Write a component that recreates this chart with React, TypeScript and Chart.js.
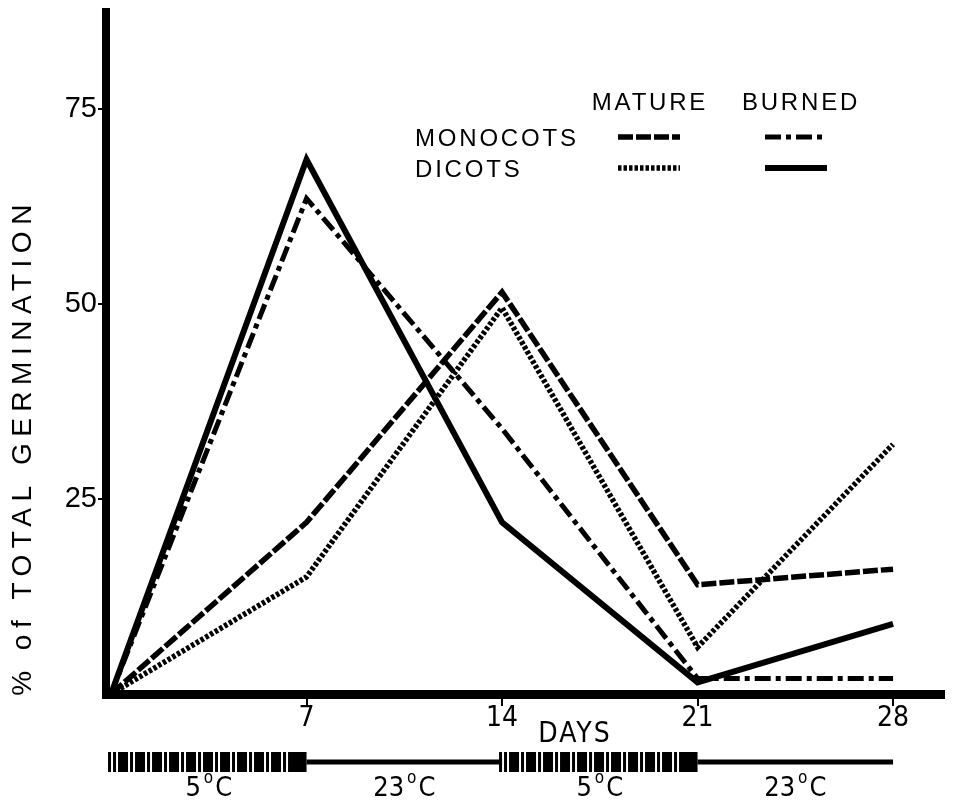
import { useEffect, useRef } from 'react';
import { Chart, registerables } from 'chart.js';

Chart.register(...registerables);

// ---- data ----
const days = [0, 7, 14, 21, 28];
const matureMonocots = [0, 22, 51.5, 14, 16];
const burnedMonocots = [0, 63.5, 34, 2, 2];
const matureDicots = [0, 15, 49.5, 6, 32];
const burnedDicots = [0, 68.5, 22, 1.5, 9];

const xTickValues = [7, 14, 21, 28];
const yTickValues = [25, 50, 75];

const legendColumns = ['MATURE', 'BURNED'];
const legendRows = ['MONOCOTS', 'DICOTS'];

const tempStart = [0, 7, 14, 21];
const tempEnd = [7, 14, 21, 28];
const tempValues = ['5', '23', '5', '23'];
const tempCold = [true, false, true, false];

const yTitle = '% of TOTAL GERMINATION';
const xTitle = 'DAYS';

const SANS = '"Liberation Sans", Arial, Helvetica, sans-serif';
const NARROW = '"Liberation Sans Narrow", "DejaVu Sans Condensed", "Liberation Sans", Arial, sans-serif';

function pts(vals: number[]) {
  return days.map((d, i) => ({ x: d, y: vals[i] }));
}

const overlayPlugin = {
  id: 'overlay',
  afterDraw(chart: any) {
    const ctx: CanvasRenderingContext2D = chart.ctx;
    const xs = chart.scales.x;
    ctx.save();
    ctx.fillStyle = '#000';
    ctx.strokeStyle = '#000';

    // y-axis title
    ctx.save();
    ctx.translate(23, 447);
    ctx.rotate(-Math.PI / 2);
    (ctx as any).letterSpacing = '6.5px';
    ctx.font = `28px ${SANS}`;
    ctx.textAlign = 'center';
    ctx.textBaseline = 'middle';
    ctx.fillText(yTitle, 0, 0);
    ctx.restore();

    // DAYS
    ctx.save();
    (ctx as any).letterSpacing = '2px';
    ctx.font = `28px ${NARROW}`;
    ctx.textAlign = 'center';
    ctx.textBaseline = 'alphabetic';
    ctx.fillText(xTitle, 575, 742);
    ctx.restore();

    // legend
    ctx.save();
    (ctx as any).letterSpacing = '2.8px';
    ctx.font = `24px ${SANS}`;
    ctx.textBaseline = 'alphabetic';
    ctx.textAlign = 'center';
    const colCenters = [650, 801];
    legendColumns.forEach((t, i) => ctx.fillText(t, colCenters[i], 110));
    ctx.textAlign = 'left';
    const rowBase = [146, 177];
    legendRows.forEach((t, i) => ctx.fillText(t, 415, rowBase[i]));
    ctx.restore();

    const sampleX = [[618, 680], [765, 827]];
    const sampleY = [137, 168];
    chart.data.datasets.forEach((ds: any, i: number) => {
      const row = Math.floor(i / 2);
      const col = i % 2;
      ctx.save();
      ctx.lineWidth = ds.borderWidth;
      ctx.setLineDash(ds.borderDash || []);
      ctx.lineCap = 'butt';
      ctx.beginPath();
      ctx.moveTo(sampleX[col][0], sampleY[row]);
      ctx.lineTo(sampleX[col][1], sampleY[row]);
      ctx.stroke();
      ctx.restore();
    });

    // temperature regime bar
    const yc = 762;
    tempStart.forEach((s, i) => {
      const x1 = xs.getPixelForValue(s);
      const x2 = xs.getPixelForValue(tempEnd[i]);
      if (tempCold[i]) {
        let p = x1 - 3;
        ctx.fillRect(p, yc - 10, 3, 20);
        p += 5;
        ctx.fillRect(p, yc - 10, 3, 20);
        p += 5;
        while (p + 17 < x2 - 12) {
          ctx.fillRect(p, yc - 10, 10, 20);
          p += 12;
          ctx.fillRect(p, yc - 10, 3, 20);
          p += 5;
        }
        ctx.fillRect(p, yc - 10, x2 - p, 20);
      } else {
        ctx.fillRect(x1, yc - 2.5, x2 - x1, 5);
      }
      // label
      const cx = (x1 + x2) / 2;
      ctx.font = `27px ${NARROW}`;
      const wNum = ctx.measureText(tempValues[i]).width;
      ctx.font = `17px ${NARROW}`;
      const wDeg = ctx.measureText('o').width;
      ctx.font = `27px ${NARROW}`;
      const wC = ctx.measureText('C').width;
      const total = wNum + 3 + wDeg + 2 + wC;
      let lx = cx - total / 2;
      ctx.textAlign = 'left';
      ctx.textBaseline = 'alphabetic';
      ctx.fillText(tempValues[i], lx, 796);
      lx += wNum + 3;
      ctx.font = `17px ${NARROW}`;
      ctx.fillText('o', lx, 783);
      lx += wDeg + 2;
      ctx.font = `27px ${NARROW}`;
      ctx.fillText('C', lx, 796);
    });

    ctx.restore();
  },
};

export default function App() {
  const ref = useRef<HTMLCanvasElement | null>(null);

  useEffect(() => {
    if (!ref.current) return;
    const common = {
      borderColor: '#000',
      backgroundColor: '#000',
      pointRadius: 0,
      tension: 0,
      fill: false,
      borderJoinStyle: 'miter' as const,
      borderCapStyle: 'butt' as const,
    };
    const chart = new Chart(ref.current, {
      type: 'line',
      data: {
        datasets: [
          { ...common, label: 'Mature monocots', data: pts(matureMonocots), borderWidth: 5.5, borderDash: [15, 3] },
          { ...common, label: 'Burned monocots', data: pts(burnedMonocots), borderWidth: 5, borderDash: [16, 5, 5, 5] },
          { ...common, label: 'Mature dicots', data: pts(matureDicots), borderWidth: 5.5, borderDash: [3.5, 2] },
          { ...common, label: 'Burned dicots', data: pts(burnedDicots), borderWidth: 6, borderDash: [] },
        ],
      },
      options: {
        responsive: false,
        animation: false,
        layout: { padding: { left: 0, top: 12, right: 8, bottom: 0 } },
        plugins: { legend: { display: false }, tooltip: { enabled: false }, title: { display: false } },
        scales: {
          x: {
            type: 'linear',
            min: -0.18,
            max: 29.86,
            afterBuildTicks: (s: any) => { s.ticks = xTickValues.map((v) => ({ value: v })); },
            afterFit: (s: any) => { s.height = 106; s.paddingLeft = 0; s.paddingRight = 0; s.paddingTop = 0; s.paddingBottom = 0; },
            border: { display: true, color: '#000', width: 9 },
            grid: { display: true, drawOnChartArea: false, drawTicks: true, tickLength: 12, tickWidth: 2, tickColor: '#000', color: '#000', lineWidth: 0 },
            ticks: { color: '#000', font: { family: NARROW, size: 28 }, padding: -4, maxRotation: 0, autoSkip: false },
          },
          y: {
            type: 'linear',
            min: 0,
            max: 87.4,
            afterBuildTicks: (s: any) => { s.ticks = yTickValues.map((v) => ({ value: v })); },
            afterFit: (s: any) => { s.width = 106; s.paddingLeft = 0; s.paddingRight = 0; s.paddingTop = 0; s.paddingBottom = 0; },
            border: { display: true, color: '#000', width: 8 },
            grid: { display: true, drawOnChartArea: false, drawTicks: true, tickLength: 8, tickWidth: 2, tickColor: '#000', color: '#000', lineWidth: 0 },
            ticks: { color: '#000', font: { family: SANS, size: 29 }, padding: 1, autoSkip: false },
          },
        },
      },
      plugins: [overlayPlugin],
    } as any);
    return () => chart.destroy();
  }, []);

  return (
    <div style={{ position: 'fixed', left: 0, top: 0, width: 953, height: 800, background: '#fff' }}>
      <canvas ref={ref} width={953} height={800} style={{ display: 'block' }} />
    </div>
  );
}
